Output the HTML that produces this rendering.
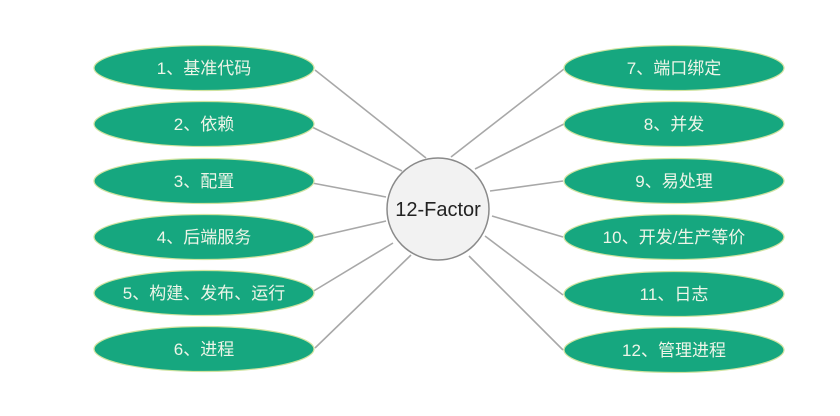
<!DOCTYPE html>
<html><head><meta charset="utf-8"><style>
body{margin:0;background:#fff}
svg text{font-family:"Liberation Sans","Noto Sans CJK SC",sans-serif}
</style></head><body>
<svg width="840" height="411" viewBox="0 0 840 411">
<g stroke="#a8a8a8" stroke-width="1.6">
<line x1="315" y1="70" x2="426" y2="158"/>
<line x1="312" y1="127" x2="402" y2="171"/>
<line x1="312" y1="183" x2="386" y2="197"/>
<line x1="312" y1="238" x2="386" y2="221"/>
<line x1="312" y1="292" x2="393" y2="243"/>
<line x1="315" y1="348" x2="411" y2="255"/>
<line x1="564" y1="69" x2="451" y2="157"/>
<line x1="564" y1="124" x2="475" y2="169"/>
<line x1="563" y1="181" x2="490" y2="191"/>
<line x1="563" y1="237" x2="492" y2="216"/>
<line x1="563" y1="295" x2="485" y2="236"/>
<line x1="563" y1="350" x2="469" y2="256"/>
</g>
<g fill="#16a77f" stroke="#cfe3a0" stroke-width="1.2">
<ellipse cx="204" cy="68" rx="110" ry="22.5"/>
<ellipse cx="204" cy="124" rx="110" ry="22.5"/>
<ellipse cx="204" cy="181" rx="110" ry="22.5"/>
<ellipse cx="204" cy="237" rx="110" ry="22.5"/>
<ellipse cx="204" cy="293" rx="110" ry="22.5"/>
<ellipse cx="204" cy="349" rx="110" ry="22.5"/>
<ellipse cx="674" cy="68" rx="110" ry="22.5"/>
<ellipse cx="674" cy="124" rx="110" ry="22.5"/>
<ellipse cx="674" cy="181" rx="110" ry="22.5"/>
<ellipse cx="674" cy="237" rx="110" ry="22.5"/>
<ellipse cx="674" cy="294" rx="110" ry="22.5"/>
<ellipse cx="674" cy="350" rx="110" ry="22.5"/>
</g>
<g fill="#eef5e8" font-size="17" text-anchor="middle">
<text x="204" y="74">1、基准代码</text>
<text x="204" y="130">2、依赖</text>
<text x="204" y="187">3、配置</text>
<text x="204" y="243">4、后端服务</text>
<text x="204" y="299">5、构建、发布、运行</text>
<text x="204" y="355">6、进程</text>
<text x="674" y="74">7、端口绑定</text>
<text x="674" y="130">8、并发</text>
<text x="674" y="187">9、易处理</text>
<text x="674" y="243">10、开发/生产等价</text>
<text x="674" y="300">11、日志</text>
<text x="674" y="356">12、管理进程</text>
</g>
<circle cx="438" cy="209" r="51" fill="#f2f2f2" stroke="#8a8a8a" stroke-width="1.5"/>
<text x="438" y="216" font-size="20" text-anchor="middle" fill="#222">12-Factor</text>
</svg>
</body></html>
